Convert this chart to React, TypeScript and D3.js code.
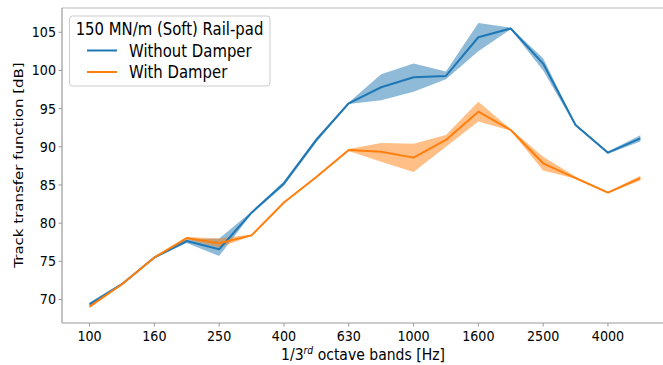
import React from 'react'
import * as d3 from 'd3'

// 1/3 octave band centres
const bands = ['100', '125', '160', '200', '250', '315', '400', '500', '630', '800', '1000', '1250', '1600', '2000', '2500', '3150', '4000', '5000']
const tickBands = ['100', '160', '250', '400', '630', '1000', '1600', '2500', '4000']
const yTicks = [70, 75, 80, 85, 90, 95, 100, 105]

const without = [69.37, 72.0, 75.5, 77.66, 76.58, 81.37, 85.2, 90.9, 95.7, 97.8, 99.1, 99.28, 104.35, 105.5, 100.9, 92.86, 89.23, 91.1]
const withoutLow = [69.15, 71.85, 75.4, 77.4, 75.7, 81.2, 84.9, 90.6, 95.6, 96.1, 97.2, 98.85, 102.5, 105.4, 100.0, 92.7, 89.1, 90.7]
const withoutHigh = [69.6, 72.15, 75.6, 77.85, 78.0, 81.5, 85.5, 91.2, 95.8, 99.5, 100.9, 99.85, 106.2, 105.6, 101.6, 93.0, 89.4, 91.5]

const withD = [69.06, 72.0, 75.5, 78.05, 77.36, 78.4, 82.7, 86.05, 89.58, 89.36, 88.58, 90.9, 94.6, 92.2, 87.84, 85.9, 84.0, 85.9]
const withLow = [68.9, 71.9, 75.4, 77.9, 76.8, 78.3, 82.6, 85.95, 89.45, 88.05, 86.7, 90.0, 93.3, 92.1, 86.9, 85.8, 83.9, 85.6]
const withHigh = [69.2, 72.1, 75.6, 78.2, 78.0, 78.5, 82.8, 86.15, 89.7, 90.5, 90.4, 91.55, 95.9, 92.3, 88.7, 86.1, 84.1, 86.2]

const W = 663
const H = 365
const left = 62
const top = 8
const bottom = 323
const step = 32.4
const SQ = 0.875 // picture is slightly squeezed horizontally
const font = 'DejaVu Sans, sans-serif'

export default function App() {
  const x = d3.scaleLinear().domain([-0.85, bands.length - 1 + 0.85]).range([left, left + 18.7 * step])
  const y = d3.scaleLinear().domain([66.92, 108.18]).range([bottom, top])

  const line = d3.line<number>().x((d, i) => x(i)).y(d => y(d))
  const area = (lo: number[], hi: number[]) =>
    d3.area<number>().x((d, i) => x(i)).y0((d, i) => y(lo[i])).y1((d, i) => y(hi[i]))(lo)

  const series = [
    {name: 'Without Damper', color: '#1f77b4', mean: without, lo: withoutLow, hi: withoutHigh},
    {name: 'With Damper', color: '#ff7f0e', mean: withD, lo: withLow, hi: withHigh},
  ]

  const sqText = (tx: number, ty: number, s: string, size: number, anchor = 'middle', extra?: any) => (
    <text transform={`translate(${tx},${ty}) scale(${SQ},1)`} textAnchor={anchor} fontSize={size} fontFamily={font} fill="#000">
      {extra ?? s}
    </text>
  )

  return (
    <svg width={W} height={H} style={{position: 'absolute', left: 0, top: 0, background: '#fff'}}>
      <defs>
        <clipPath id="plot">
          <rect x={left} y={top} width={W - left} height={bottom - top} />
        </clipPath>
      </defs>
      <g clipPath="url(#plot)">
        {series.map(s => (
          <path key={s.name + 'band'} d={area(s.lo, s.hi) || ''} fill={s.color} fillOpacity={0.5} />
        ))}
        {series.map(s => (
          <path key={s.name} d={line(s.mean) || ''} fill="none" stroke={s.color} strokeWidth={2} strokeLinejoin="round" />
        ))}
      </g>
      {/* spines */}
      <line x1={left} x2={W} y1={top} y2={top} stroke="#bbb" strokeWidth={1.2} />
      <line x1={left} x2={left} y1={top} y2={bottom} stroke="#999" strokeWidth={1.2} />
      <line x1={left} x2={W} y1={bottom} y2={bottom} stroke="#999" strokeWidth={1.2} />
      {/* y ticks */}
      {yTicks.map(t => (
        <g key={t}>
          <line x1={left - 3.5} x2={left} y1={y(t)} y2={y(t)} stroke="#999" />
          {sqText(left - 6, y(t) + 5, String(t), 14.5, 'end')}
        </g>
      ))}
      {/* x ticks */}
      {tickBands.map(b => {
        const i = bands.indexOf(b)
        return (
          <g key={b}>
            <line x1={x(i)} x2={x(i)} y1={bottom} y2={bottom + 3.5} stroke="#999" />
            {sqText(x(i), bottom + 18, b, 14.5)}
          </g>
        )
      })}
      {/* axis labels */}
      {sqText(363, 360, '', 16, 'middle', (
        <>
          1/3<tspan fontSize={10.5} dy={-6} fontStyle="italic">rd</tspan>
          <tspan dy={6}> octave bands [Hz]</tspan>
        </>
      ))}
      <text transform={`translate(23,165) rotate(-90) scale(1,${SQ})`} textAnchor="middle" fontSize={15} fontFamily={font}>
        Track transfer function [dB]
      </text>
      {/* legend */}
      <rect x={69.5} y={16} width={200.5} height={70} rx={3} fill="#fff" fillOpacity={0.8} stroke="#ccc" />
      {sqText(169.5, 34.5, '150 MN/m (Soft) Rail-pad', 17)}
      {series.map((s, k) => (
        <g key={s.name + 'leg'}>
          <line x1={87} x2={117} y1={50.5 + k * 21.5} y2={50.5 + k * 21.5} stroke={s.color} strokeWidth={2} />
          {sqText(129, 56.5 + k * 21.5, s.name, 17, 'start')}
        </g>
      ))}
    </svg>
  )
}
